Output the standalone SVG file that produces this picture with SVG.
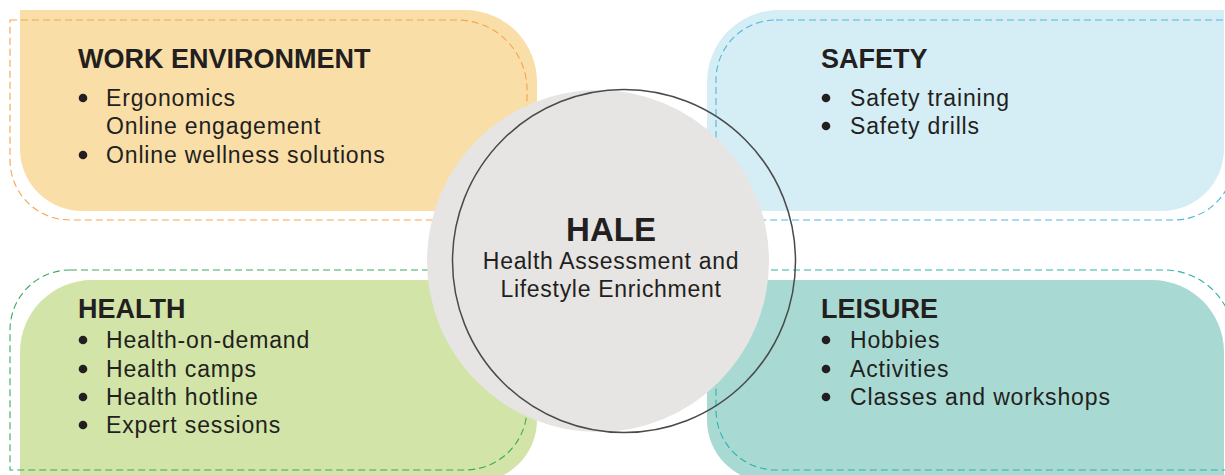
<svg xmlns="http://www.w3.org/2000/svg" width="1225" height="475" viewBox="0 0 1225 475">
<style>
.title{font-family:"Liberation Sans",Arial,sans-serif;font-weight:bold;font-size:27px;fill:#231F20}
.item{font-family:"Liberation Sans",Arial,sans-serif;font-size:23px;letter-spacing:0.85px;fill:#231F20}
.hale{font-family:"Liberation Sans",Arial,sans-serif;font-weight:bold;font-size:33px;fill:#231F20}
.sub{font-family:"Liberation Sans",Arial,sans-serif;font-size:23px;letter-spacing:0.7px;fill:#231F20}
.dash{fill:none;stroke-width:1.1;stroke-dasharray:7 4}
.bul{fill:#231F20}
</style>
<rect width="1225" height="475" fill="#ffffff"/>
<g id="work">
<path d="M20,10 H465 A72,72 0 0 1 537,82 V211 H82 A62,62 0 0 1 20,149 Z" fill="#F9DEA8"/>
<path class="dash" stroke="#F5A54A" d="M10,20 H457 A70,70 0 0 1 527,90 V220 H70 A60,60 0 0 1 10,160 Z"/>
</g>
<g id="safety">
<path d="M779,10 H1224 V149 A62,62 0 0 1 1162,211 H707 V82 A72,72 0 0 1 779,10 Z" fill="#D5EEF5"/>
<path class="dash" stroke="#4DB8E0" d="M776,20 H1234 V160 A60,60 0 0 1 1174,220 H716 V80 A60,60 0 0 1 776,20 Z"/>
</g>
<g id="health">
<path d="M92,280 H537 V420 A62,62 0 0 1 475,482 H20 V352 A72,72 0 0 1 92,280 Z" fill="#D2E4A8"/>
<path class="dash" stroke="#3DAA5E" d="M70,270 H527 V408 A62,62 0 0 1 465,470 H10 V330 A60,60 0 0 1 70,270 Z"/>
</g>
<g id="leisure">
<path d="M707,280 H1152 A72,72 0 0 1 1224,352 V482 H769 A62,62 0 0 1 707,420 Z" fill="#A8DAD3"/>
<path class="dash" stroke="#2CB3A8" d="M716,270 H1164 A70,70 0 0 1 1234,340 V470 H776 A60,60 0 0 1 716,410 Z"/>
</g>
<g id="hale">
<circle cx="598" cy="261" r="171" fill="#E6E5E3"/>
<circle cx="624" cy="261" r="171.5" fill="none" stroke="#4A4A4A" stroke-width="1.5"/>
<text class="hale" x="611" y="241" text-anchor="middle">HALE</text>
<text class="sub" x="611" y="269" text-anchor="middle">Health Assessment and</text>
<text class="sub" x="611" y="297" text-anchor="middle">Lifestyle Enrichment</text>
</g>
<g id="work-text">
<text class="title" x="78" y="68">WORK ENVIRONMENT</text>
<circle class="bul" cx="83" cy="98" r="4.3"/>
<text class="item" x="106" y="106">Ergonomics</text>
<text class="item" x="106" y="134">Online engagement</text>
<circle class="bul" cx="83" cy="155" r="4.3"/>
<text class="item" x="106" y="163">Online wellness solutions</text>
</g>
<g id="safety-text">
<text class="title" x="821" y="68">SAFETY</text>
<circle class="bul" cx="826" cy="98" r="4.3"/>
<text class="item" x="850" y="106">Safety training</text>
<circle class="bul" cx="826" cy="126" r="4.3"/>
<text class="item" x="850" y="134">Safety drills</text>
</g>
<g id="health-text">
<text class="title" x="78" y="318">HEALTH</text>
<circle class="bul" cx="83" cy="340" r="4.3"/>
<text class="item" x="106" y="348">Health-on-demand</text>
<circle class="bul" cx="83" cy="369" r="4.3"/>
<text class="item" x="106" y="377">Health camps</text>
<circle class="bul" cx="83" cy="397" r="4.3"/>
<text class="item" x="106" y="405">Health hotline</text>
<circle class="bul" cx="83" cy="425" r="4.3"/>
<text class="item" x="106" y="433">Expert sessions</text>
</g>
<g id="leisure-text">
<text class="title" x="821" y="318">LEISURE</text>
<circle class="bul" cx="826" cy="340" r="4.3"/>
<text class="item" x="850" y="348">Hobbies</text>
<circle class="bul" cx="826" cy="369" r="4.3"/>
<text class="item" x="850" y="377">Activities</text>
<circle class="bul" cx="826" cy="397" r="4.3"/>
<text class="item" x="850" y="405">Classes and workshops</text>
</g>
<g id="connectors"></g>
</svg>
